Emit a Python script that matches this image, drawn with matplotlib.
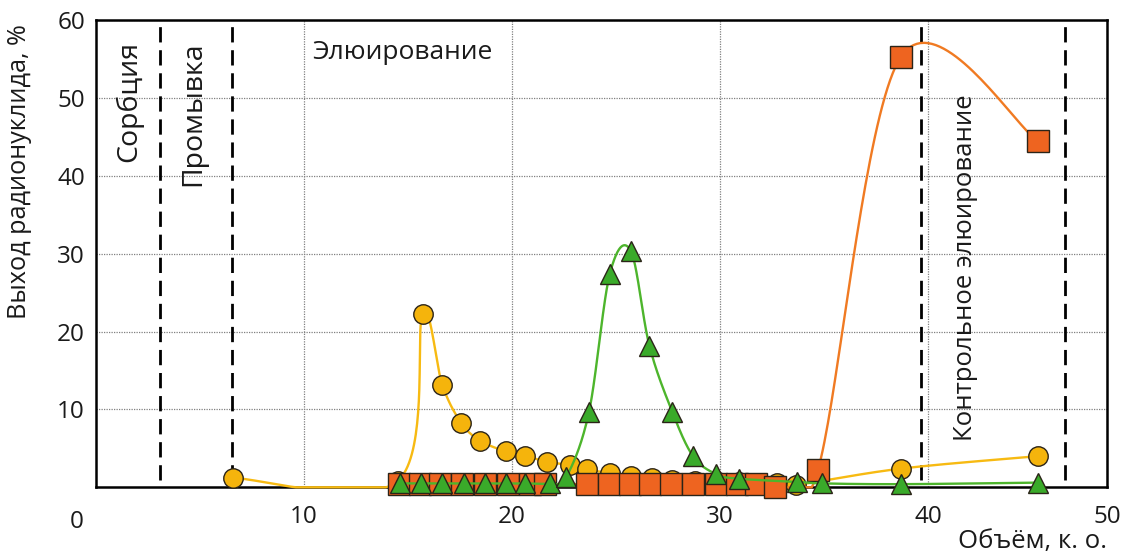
import numpy as np
import matplotlib
matplotlib.use("Agg")
import matplotlib.pyplot as plt

plt.rcParams['font.family'] = ['Open Sans', 'DejaVu Sans']

# --- data -------------------------------------------------------------
circ_x = [6.6, 14.5, 15.7, 16.65, 17.55, 18.45, 19.7, 20.6, 21.7, 22.8, 23.6,
          24.7, 25.7, 26.75, 27.7, 28.8, 29.8, 30.9, 31.75, 32.75, 33.65,
          38.7, 45.3]
circ_y = [1.2, 0.8, 22.3, 13.1, 8.3, 6.0, 4.6, 4.0, 3.3, 2.8, 2.3,
          1.8, 1.45, 1.2, 0.9, 0.8, 0.8, 0.7, 0.6, 0.5, 0.3,
          2.4, 4.0]

sq_x = [14.55, 15.55, 16.55, 17.6, 18.7, 19.8, 20.85, 21.6, 23.6, 24.65,
        25.65, 26.65, 27.65, 28.7, 29.8, 30.8, 31.75, 32.65, 34.7, 38.7, 45.3]
sq_y = [0.4, 0.4, 0.4, 0.4, 0.4, 0.4, 0.4, 0.4, 0.4, 0.4,
        0.4, 0.4, 0.4, 0.4, 0.4, 0.4, 0.4, 0.0, 2.2, 55.3, 44.4]

tri_x = [14.6, 15.6, 16.65, 17.7, 18.7, 19.7, 20.6, 21.8, 22.6, 23.7, 24.7,
         25.7, 26.6, 27.7, 28.7, 29.8, 30.9, 33.7, 34.9, 38.7, 45.3]
tri_y = [0.5, 0.5, 0.5, 0.5, 0.5, 0.5, 0.5, 0.5, 1.3, 9.7, 27.4,
         30.4, 18.2, 9.7, 4.0, 1.7, 1.1, 0.7, 0.5, 0.4, 0.6]

stage_bounds = [3.07, 6.53, 39.67, 46.6]
x_ticks = [10, 20, 30, 40]
y_ticks = [10, 20, 30, 40, 50, 60]
x_end = 48.6

TXT = '#1a1a1a'


def smooth(x, y, n=40):
    """Catmull-Rom style cubic Bezier through all points."""
    pts = np.column_stack([x, y]).astype(float)
    P = np.vstack([pts[0], pts, pts[-1]])
    segs = []
    t = np.linspace(0, 1, n)[:, None]
    for i in range(1, len(P) - 2):
        p0, p1, p2, p3 = P[i - 1], P[i], P[i + 1], P[i + 2]
        c1 = p1 + (p2 - p0) / 6
        c2 = p2 - (p3 - p1) / 6
        segs.append((1 - t) ** 3 * p1 + 3 * (1 - t) ** 2 * t * c1
                    + 3 * (1 - t) * t ** 2 * c2 + t ** 3 * p2)
    c = np.vstack(segs)
    c[:, 1] = np.maximum(c[:, 1], 0)
    return c[:, 0], c[:, 1]


fig = plt.figure(figsize=(11.26, 5.55), dpi=100)
ax = fig.add_axes([0.0853, 0.122, 0.8978, 0.842])

ax.set_xlim(0, x_end)
ax.set_ylim(0, 60)

# stage boundaries
ax.vlines(stage_bounds, 1.0, 60, colors='black', linewidth=2.0,
          linestyles=(0, (5.5, 2.8)), zorder=2)

series = [
    (circ_x, circ_y, '#F7BA12', '#F5B40C', 'o', 14),
    (sq_x, sq_y, '#F07A22', '#EE6420', 's', 15.5),
    (tri_x, tri_y, '#4DB52C', '#3AAA2A', '^', 14.5),
]
for k, (xs, ys, lc, fc, mk, ms) in enumerate(series):
    cx, cy = smooth(xs, ys)
    ax.plot(cx, cy, color=lc, linewidth=1.7, clip_on=False, zorder=3 + 2 * k)
    ax.plot(xs, ys, linestyle='none', marker=mk, markersize=ms,
            markerfacecolor=fc, markeredgecolor='#2b2418', markeredgewidth=1.0,
            clip_on=False, zorder=4 + 2 * k)

# grid and frame
ax.set_xticks(x_ticks + [x_end])
ax.set_xticklabels([str(v) for v in x_ticks] + ['50'])
ax.set_yticks(y_ticks)
ax.grid(True, color='#808080', linestyle=(0, (1, 1)), linewidth=0.9)
ax.tick_params(length=0, labelsize=17.5, colors=TXT)
ax.tick_params(axis='x', pad=12.5)
ax.tick_params(axis='y', pad=8)
for s in ax.spines.values():
    s.set_linewidth(1.8)
    s.set_color('black')
    s.set_zorder(2.5)

ax.annotate('0', xy=(0, 0), xycoords='axes fraction', xytext=(-14, -16),
            textcoords='offset points', ha='center', va='top', fontsize=17.5,
            color=TXT)

ax.set_ylabel('Выход радионуклида, %', fontsize=18.2, color=TXT)
ax.yaxis.set_label_coords(-0.063, 0.675)
ax.set_xlabel('Объём, к. о.', fontsize=18.5, loc='right', labelpad=0,
              color=TXT)

ax.text(1.6, 57.3, 'Сорбция', rotation=90, ha='center', va='top',
        fontsize=20.5, color=TXT)
ax.text(4.65, 57.3, 'Промывка', rotation=90, ha='center', va='top',
        fontsize=20.5, color=TXT)
ax.text(10.4, 55.8, 'Элюирование', ha='left', va='center', fontsize=19,
        color=TXT)
ax.text(41.8, 50.5, 'Контрольное элюирование', rotation=90, ha='center',
        va='top', fontsize=18.5, color=TXT)

fig.savefig('out.png', dpi=100, facecolor='white')
